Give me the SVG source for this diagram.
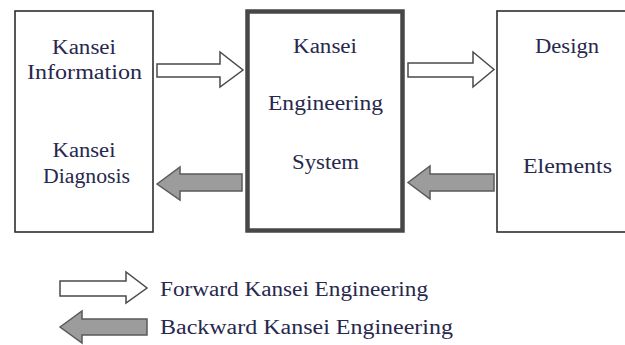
<svg xmlns="http://www.w3.org/2000/svg" width="625" height="345" viewBox="0 0 625 345">
<style>
.box{fill:#fff;stroke:#2e2e2e;stroke-width:1.6}
.sys{fill:#fff;stroke:#474747;stroke-width:4.5}
text{font-family:'Liberation Serif','DejaVu Serif',serif;font-size:20px;fill:#27284d}
.t{text-anchor:middle}
.fw{fill:#fff;stroke:#4a4a4a;stroke-width:1.5;stroke-linejoin:miter}
.bw{fill:#9c9c9c;stroke:#5a5a5a;stroke-width:1.5;stroke-linejoin:miter}
</style>
<rect width="625" height="345" fill="#fff"/>
<g id="node-kansei-info">
<rect class="box" x="15" y="11" width="138" height="221"/>
<text class="t" x="84" y="54" textLength="64" lengthAdjust="spacingAndGlyphs">Kansei</text>
<text class="t" x="84.5" y="79" textLength="115" lengthAdjust="spacingAndGlyphs">Information</text>
<text class="t" x="84" y="157" textLength="63" lengthAdjust="spacingAndGlyphs">Kansei</text>
<text class="t" x="86.5" y="183" textLength="87" lengthAdjust="spacingAndGlyphs">Diagnosis</text>
</g>
<g id="node-kes">
<rect class="sys" x="247.5" y="11.5" width="155" height="219"/>
<text class="t" x="325" y="53" textLength="64" lengthAdjust="spacingAndGlyphs">Kansei</text>
<text class="t" x="325.5" y="110" textLength="115" lengthAdjust="spacingAndGlyphs">Engineering</text>
<text class="t" x="325.5" y="169" textLength="67" lengthAdjust="spacingAndGlyphs">System</text>
</g>
<g id="node-design">
<rect class="box" x="497" y="11" width="140" height="221"/>
<text class="t" x="567" y="53" textLength="64" lengthAdjust="spacingAndGlyphs">Design</text>
<text class="t" x="567.5" y="173" textLength="89" lengthAdjust="spacingAndGlyphs">Elements</text>
</g>
<g id="connectors">
<polygon class="fw" points="157,64 220,64 220,52 243,70 220,87 220,77 157,77"/>
<polygon class="fw" points="408,63 473,63 473,52 494,69.5 473,87 473,77 408,77"/>
<polygon class="bw" points="157,184 180,167 180,174 242,174 242,191 180,191 180,200"/>
<polygon class="bw" points="408,182.5 430,166 430,174 494,174 494,191 430,191 430,199"/>
</g>
<g id="legend">
<polygon class="fw" points="60,281 126,281 126,272 147,288 126,303 126,296 60,296"/>
<text x="160" y="296" textLength="268" lengthAdjust="spacingAndGlyphs">Forward Kansei Engineering</text>
<polygon class="bw" points="60,327 82,311 82,319 147,319 147,335 82,335 82,343"/>
<text x="160" y="334" textLength="293" lengthAdjust="spacingAndGlyphs">Backward Kansei Engineering</text>
</g>
</svg>
